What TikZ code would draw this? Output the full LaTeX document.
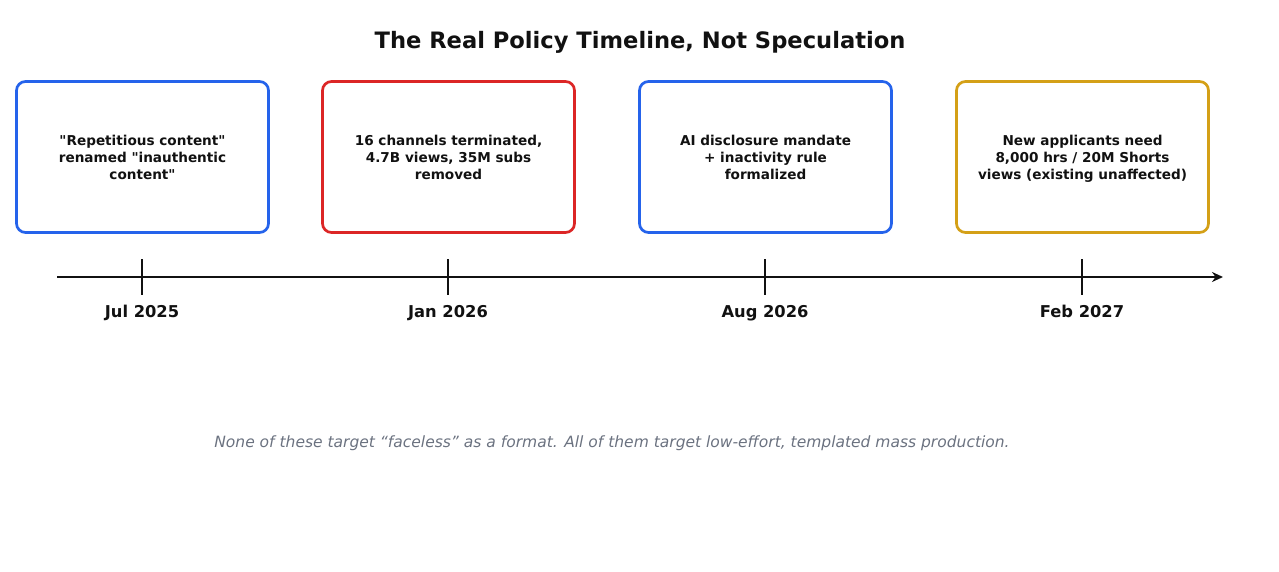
\documentclass[tikz,border=0pt]{standalone}
\usepackage{fontspec}
\setmainfont{DejaVu Sans}[Ligatures=TeXOff]
\usetikzlibrary{positioning,arrows.meta}

\definecolor{ink}{HTML}{111111}
\definecolor{evblue}{HTML}{2563EB}
\definecolor{evred}{HTML}{DC2626}
\definecolor{evgold}{HTML}{D4A017}
\definecolor{notegray}{HTML}{6B7280}

\begin{document}
\begin{tikzpicture}[x=1pt,y=-1pt,
    event/.style={draw, line width=2.7pt, rounded corners=9pt, minimum width=252pt,
      minimum height=151pt, align=center, text=ink, text depth=0pt,
      font=\bfseries\fontsize{13.6}{17}\selectfont},
    date/.style={text=ink, text height=11.9pt, text depth=0pt,
      font=\bfseries\fontsize{16.3}{19}\selectfont},
    tickmark/.style={draw=ink, line width=2.2pt}]
    % cadre de la figure
    \useasboundingbox (0,0) rectangle (1279,572);

    % titre
    \node[text=ink, text height=16.5pt, text depth=0pt, font=\bfseries\fontsize{22.6}{26}\selectfont]
      (title) at (640,40) {The Real Policy Timeline, Not Speculation};

    % les quatre encadres
    \node[event, draw=evblue] (jul) at (142.5,157)
      {"Repetitious content"\\renamed "inauthentic\\content"};
    \node[event, draw=evred] (jan) at (448.5,157)
      {16 channels terminated,\\4.7B views, 35M subs\\removed};
    \node[event, draw=evblue] (aug) at (765.5,157)
      {AI disclosure mandate\\+ inactivity rule\\formalized};
    \node[event, draw=evgold] (feb) at (1082.5,157)
      {New applicants need\\8,000 hrs / 20M Shorts\\views (existing unaffected)};

    % axe du temps
    \coordinate (start) at (57,277);
    \coordinate (stop) at (1223,277);
    \draw[draw=ink, line width=2.2pt, -{Stealth[length=11pt,width=10pt]}] (start) -- (stop);

    % graduations et dates
    \coordinate (tjul) at (142,259);
    \coordinate (tjan) at (448,259);
    \coordinate (taug) at (765,259);
    \coordinate (tfeb) at (1082,259);
    \node[date] (djul) at (142,312) {Jul 2025};
    \node[date] (djan) at (448,312) {Jan 2026};
    \node[date] (daug) at (765,312) {Aug 2026};
    \node[date] (dfeb) at (1082,312) {Feb 2027};
    \draw[tickmark] (tjul) -- ++(0,36);
    \draw[tickmark] (tjan) -- ++(0,36);
    \draw[tickmark] (taug) -- ++(0,36);
    \draw[tickmark] (tfeb) -- ++(0,36);

    % remarque en bas
    \node[text=notegray, font=\itshape\fontsize{15.5}{18}\selectfont] (note) at (612,443)
      {None of these target “faceless” as a format. All of them target low-effort, templated mass production.};
\end{tikzpicture}
\end{document}
